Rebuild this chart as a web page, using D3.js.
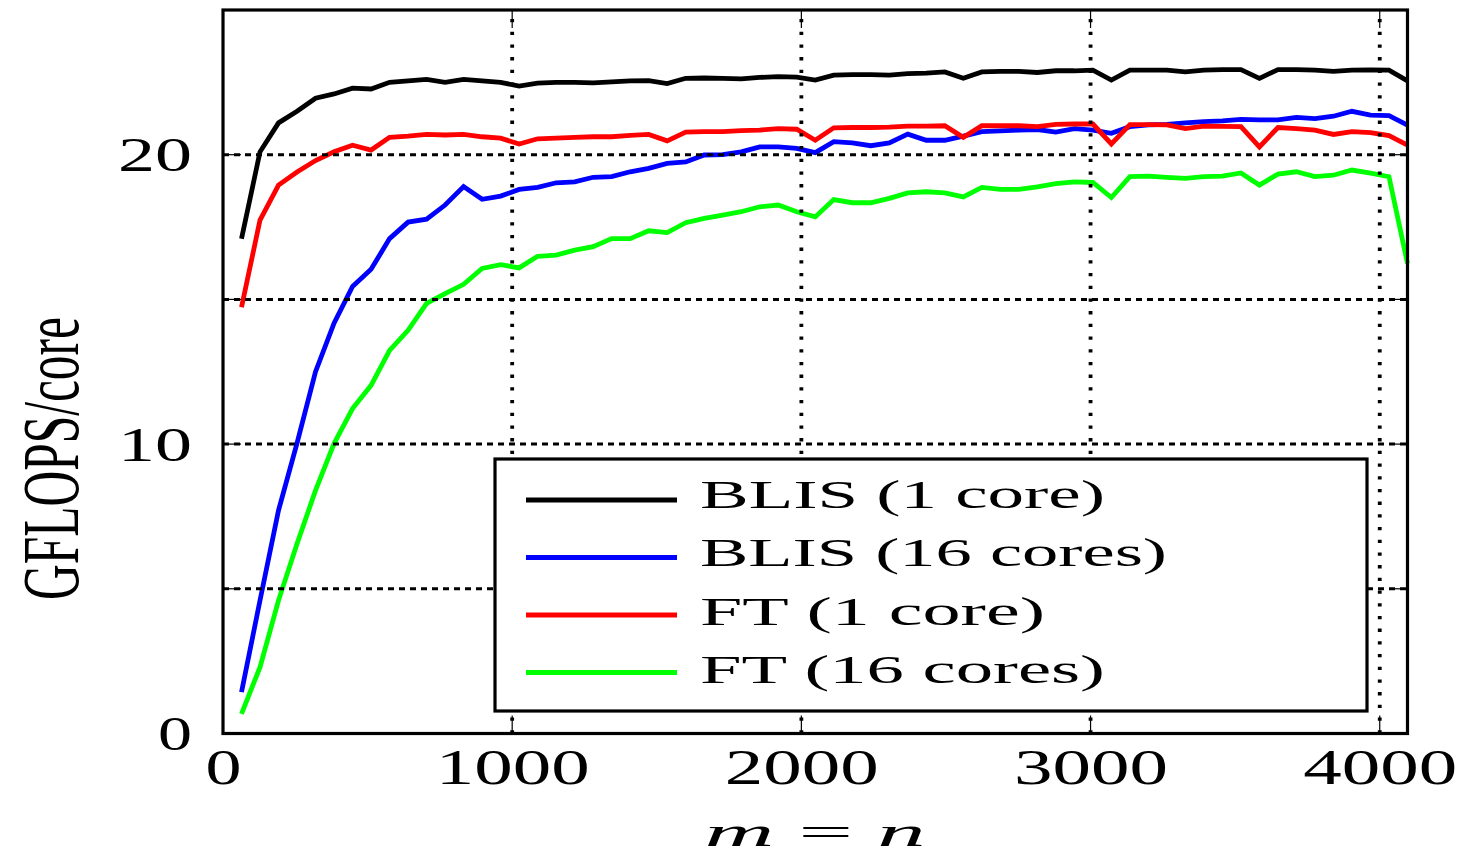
<!DOCTYPE html>
<html><head><meta charset="utf-8">
<script src="https://cdn.jsdelivr.net/npm/d3@7"></script>
<style>html,body{margin:0;padding:0;background:#fff;overflow:hidden;} svg{display:block;}</style>
</head><body>
<svg id="chart" width="1466" height="859"></svg>
<script>
const sizes = [64,128,192,256,320,384,448,512,576,640,704,768,832,896,960,1024,1088,1152,1216,1280,1344,1408,1472,1536,1600,1664,1728,1792,1856,1920,1984,2048,2112,2176,2240,2304,2368,2432,2496,2560,2624,2688,2752,2816,2880,2944,3008,3072,3136,3200,3264,3328,3392,3456,3520,3584,3648,3712,3776,3840,3904,3968,4032,4096];
const blis1 = [17.1,20.1,21.1,21.5,21.95,22.1,22.3,22.27,22.5,22.55,22.6,22.5,22.6,22.55,22.5,22.37,22.47,22.5,22.5,22.48,22.52,22.55,22.56,22.46,22.64,22.65,22.64,22.62,22.67,22.7,22.68,22.58,22.75,22.77,22.77,22.75,22.8,22.82,22.86,22.64,22.86,22.88,22.88,22.84,22.9,22.9,22.92,22.58,22.92,22.92,22.92,22.86,22.92,22.94,22.94,22.64,22.94,22.94,22.92,22.88,22.92,22.93,22.92,22.55];
const blis16 = [1.43,4.6,7.71,10.03,12.5,14.18,15.45,16.04,17.1,17.67,17.77,18.26,18.9,18.46,18.57,18.8,18.87,19.03,19.06,19.22,19.24,19.41,19.53,19.7,19.75,19.99,20.0,20.1,20.27,20.27,20.22,20.07,20.45,20.41,20.31,20.41,20.71,20.5,20.5,20.64,20.8,20.82,20.85,20.87,20.78,20.9,20.85,20.74,20.97,21.03,21.05,21.1,21.14,21.17,21.22,21.2,21.2,21.29,21.25,21.33,21.5,21.37,21.35,21.02];
const ft1 = [14.73,17.74,18.95,19.4,19.8,20.1,20.33,20.16,20.6,20.64,20.7,20.68,20.7,20.62,20.57,20.37,20.55,20.57,20.6,20.62,20.62,20.67,20.7,20.48,20.78,20.8,20.8,20.83,20.85,20.9,20.88,20.5,20.93,20.94,20.94,20.95,20.99,20.99,21.0,20.6,21.0,21.0,21.0,20.97,21.05,21.06,21.06,20.37,21.04,21.04,21.03,20.9,20.99,20.98,20.97,20.27,20.94,20.9,20.85,20.7,20.8,20.76,20.66,20.33];
const ft16 = [0.68,2.29,4.6,6.56,8.4,10.02,11.23,12.03,13.24,13.93,14.86,15.2,15.52,16.07,16.2,16.09,16.49,16.53,16.7,16.82,17.1,17.1,17.37,17.31,17.65,17.8,17.91,18.03,18.2,18.26,18.03,17.85,18.45,18.34,18.34,18.49,18.68,18.72,18.68,18.54,18.87,18.8,18.8,18.89,19.0,19.06,19.04,18.52,19.24,19.26,19.22,19.18,19.24,19.26,19.37,18.95,19.33,19.41,19.24,19.29,19.47,19.36,19.24,16.24];

const seriesNames = ["BLIS (1 core)", "BLIS (16 cores)", "FT (1 core)", "FT (16 cores)"];
const seriesColors = ["#000000", "#0000ff", "#ff0000", "#00ff00"];
const seriesValues = [blis1, blis16, ft1, ft16];

const xTickValues = [0, 1000, 2000, 3000, 4000];
const xGridValues = [1000, 2000, 3000, 4000];
const yTickValues = [0, 5, 10, 15, 20, 25];
const yGridValues = [5, 10, 15, 20];
const yLabelValues = [0, 10, 20];
const xTitle = ["m", " = ", "n"];
const yTitle = "GFLOPS/core";

const FONT = "'Liberation Serif', 'DejaVu Serif', serif";
const L = 223, R = 1407.5, T = 10, B = 733.5;

const svg = d3.select("#chart");
const x = d3.scaleLinear().domain([0, 4096]).range([L, R]);
const y = d3.scaleLinear().domain([0, 25]).range([B, T]);

// series lines
const line = d3.line().x((d, i) => x(sizes[i])).y(d => y(d));
svg.append("g").selectAll("path").data(seriesValues).join("path")
  .attr("d", d => line(d))
  .attr("fill", "none")
  .attr("stroke", (d, i) => seriesColors[i])
  .attr("stroke-width", 4.8)
  .attr("stroke-linejoin", "miter")
  .attr("stroke-linecap", "butt");

// grid (axis on top)
const grid = svg.append("g");
grid.selectAll("line.h").data(yGridValues).join("line")
  .attr("x1", L).attr("x2", R)
  .attr("y1", d => y(d)).attr("y2", d => y(d))
  .attr("stroke", "#000").attr("stroke-width", 3)
  .attr("stroke-dasharray", "6,5");
grid.selectAll("line.v").data(xGridValues).join("line")
  .attr("y1", B).attr("y2", T)
  .attr("x1", d => x(d)).attr("x2", d => x(d))
  .attr("stroke", "#000").attr("stroke-width", 3.8)
  .attr("stroke-dasharray", "3.3,9.4");

// ticks (inward, all sides)
const TL = 18;
const ticks = svg.append("g").attr("stroke", "#000").attr("stroke-width", 1.2);
yTickValues.forEach(v => {
  ticks.append("line").attr("x1", L).attr("x2", L + TL).attr("y1", y(v)).attr("y2", y(v));
  ticks.append("line").attr("x1", R).attr("x2", R - TL).attr("y1", y(v)).attr("y2", y(v));
});
xGridValues.forEach(v => {
  ticks.append("line").attr("y1", B).attr("y2", B - TL).attr("x1", x(v)).attr("x2", x(v));
  ticks.append("line").attr("y1", T).attr("y2", T + TL).attr("x1", x(v)).attr("x2", x(v));
});

// frame
svg.append("rect").attr("x", L).attr("y", T).attr("width", R - L).attr("height", B - T)
  .attr("fill", "none").attr("stroke", "#000").attr("stroke-width", 3.2);

// x axis labels
const gx = svg.append("g").attr("transform", `translate(0,${B})`)
  .call(d3.axisBottom(x).tickValues(xTickValues).tickSize(0).tickFormat(d3.format("d")));
gx.select(".domain").remove();
gx.selectAll("text")
  .attr("y", 50).attr("dy", null)
  .attr("font-family", FONT).attr("font-size", 50).attr("fill", "#000")
  .attr("textLength", d => d === 0 ? 36 : 154)
  .attr("lengthAdjust", "spacingAndGlyphs");

// y axis labels
const gy = svg.append("g").attr("transform", `translate(192,0)`)
  .call(d3.axisLeft(y).tickValues(yLabelValues).tickSize(0).tickFormat(d3.format("d")));
gy.select(".domain").remove();
gy.selectAll("text")
  .attr("x", 0).attr("dy", "0.33em")
  .attr("font-family", FONT).attr("font-size", 49).attr("fill", "#000")
  .attr("textLength", d => d === 0 ? 34 : 74)
  .attr("lengthAdjust", "spacingAndGlyphs");

// x title
const xt = svg.append("text")
  .attr("x", 815).attr("y", 846)
  .attr("text-anchor", "middle")
  .attr("font-family", FONT).attr("font-size", 40).attr("fill", "#000")
  .attr("textLength", 221).attr("lengthAdjust", "spacingAndGlyphs");
xTitle.forEach((s, i) => {
  xt.append("tspan").attr("font-style", i === 1 ? "normal" : "italic").text(s);
});

// y title
svg.append("text")
  .attr("transform", "translate(78,458.5) scale(1.6,1) rotate(-90)")
  .attr("text-anchor", "middle")
  .attr("font-family", FONT).attr("font-size", 50).attr("fill", "#000")
  .attr("textLength", 283).attr("lengthAdjust", "spacingAndGlyphs")
  .text(yTitle);

// legend
const lg = svg.append("g");
lg.append("rect").attr("x", 495).attr("y", 459).attr("width", 872).attr("height", 252)
  .attr("fill", "#fff").attr("stroke", "#000").attr("stroke-width", 3.2);
const legendTextLen = [405, 467, 345, 405];
seriesNames.forEach((name, i) => {
  const ly = 500 + 57.5 * i;
  lg.append("line").attr("x1", 526).attr("x2", 677).attr("y1", ly).attr("y2", ly)
    .attr("stroke", seriesColors[i]).attr("stroke-width", 4.8);
  lg.append("text").attr("x", 700).attr("y", 508 + 58.3 * i)
    .attr("font-family", FONT).attr("font-size", 40).attr("fill", "#000")
    .attr("textLength", legendTextLen[i]).attr("lengthAdjust", "spacingAndGlyphs")
    .text(name);
});
</script>
</body></html>
